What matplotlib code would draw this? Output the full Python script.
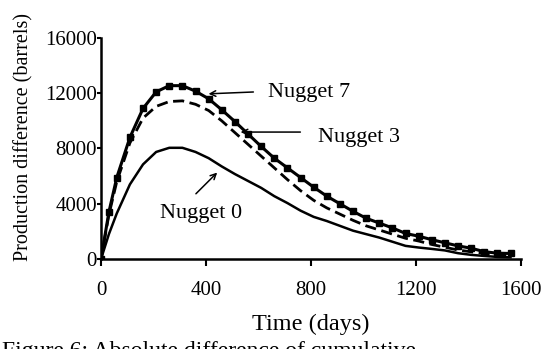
import matplotlib
matplotlib.use("Agg")
import matplotlib.pyplot as plt

days = [0, 30, 60, 110, 160, 210, 260, 310, 360, 410, 460, 510, 560, 610, 660,
        710, 760, 810, 860, 910, 960, 1010, 1060, 1110, 1160, 1210, 1260, 1310,
        1360, 1410, 1460, 1510, 1560]

nugget7 = [0, 3400, 5900, 8800, 10900, 12100, 12550, 12550, 12150, 11600, 10800,
           9950, 9050, 8150, 7300, 6600, 5900, 5200, 4550, 4000, 3450, 2950, 2600,
           2250, 1850, 1650, 1400, 1170, 950, 780, 530, 420, 400]

nugget3 = [0, 3200, 5600, 8400, 10200, 11050, 11400, 11450, 11200, 10750, 10000,
           9150, 8300, 7450, 6600, 5750, 4950, 4250, 3700, 3250, 2800, 2400, 2100,
           1800, 1500, 1300, 1050, 850, 650, 520, 400, 300, 250]

nugget0 = [0, 1800, 3300, 5400, 6850, 7750, 8050, 8050, 7750, 7300, 6700, 6150,
           5650, 5150, 4550, 4050, 3500, 3050, 2750, 2400, 2050, 1800, 1550, 1250,
           950, 830, 730, 620, 420, 300, 220, 150, 120]

xticks = [0, 400, 800, 1200, 1600]
yticks = [0, 4000, 8000, 12000, 16000]

plt.rcParams['font.family'] = ['Liberation Serif', 'DejaVu Serif']

fig = plt.figure(figsize=(5.56, 3.49), dpi=100)
ax = fig.add_axes([0.1817, 0.2579, 0.7554, 0.6332])

ax.plot(days, nugget7, color='black', lw=2.2, marker='s', ms=4.8, zorder=3)
ax.plot(days, nugget3, color='black', lw=2.0, ls=(0, (4, 2)), zorder=2)
ax.plot(days, nugget0, color='black', lw=1.8, zorder=2)

ax.set_xlim(0, 1600)
ax.set_ylim(0, 16000)
ax.set_xticks(xticks)
ax.set_yticks(yticks)
ax.spines['top'].set_visible(False)
ax.spines['right'].set_visible(False)
for s in ['left', 'bottom']:
    ax.spines[s].set_linewidth(1.8)
ax.tick_params(axis='y', direction='out', length=3, width=1.5, pad=0, labelsize=15)
ax.tick_params(axis='x', direction='out', length=5, width=1.5, pad=11, labelsize=15)

ax.set_xlabel('Time (days)', fontsize=17.5, labelpad=10)
ax.set_ylabel('Production difference (barrels)', fontsize=14.5)
ax.yaxis.set_label_coords(-0.162, 0.55)

arrow = dict(arrowstyle='->', color='black', lw=1.1)
ax.annotate('', xy=(399, 11950), xytext=(591, 12100), arrowprops=arrow)
ax.text(637, 12070, 'Nugget 7', fontsize=16, ha='left', va='center')
ax.annotate('', xy=(521, 9190), xytext=(770, 9190), arrowprops=arrow)
ax.text(825, 8800, 'Nugget 3', fontsize=16, ha='left', va='center')
ax.annotate('', xy=(450, 6400), xytext=(354, 4580), arrowprops=arrow)
ax.text(226, 3270, 'Nugget 0', fontsize=16, ha='left', va='center')

# caption, cut off by the bottom edge as in the scan
fig.text(0.004, 1.0 - 341 / 349, 'Figure 6: Absolute difference of cumulative',
         fontsize=17, ha='left', va='top')

fig.savefig('out.png', dpi=100)
